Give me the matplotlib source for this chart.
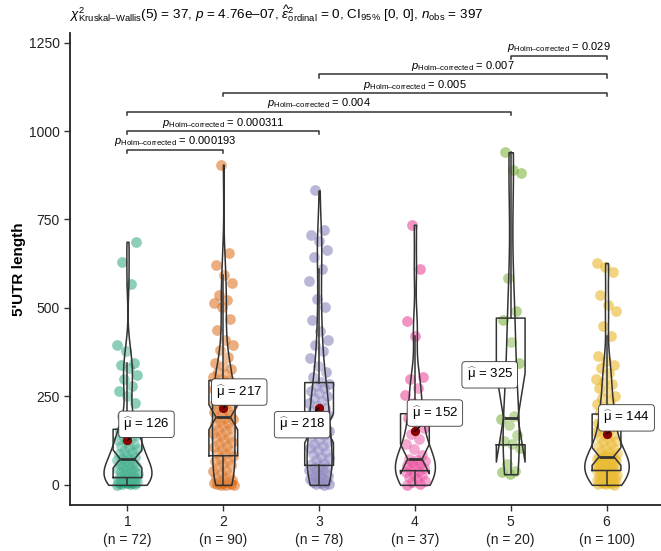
import numpy as np
import matplotlib
matplotlib.use("Agg")
import matplotlib.pyplot as plt

plt.rcParams["font.family"] = ["Liberation Sans", "DejaVu Sans"]
plt.rcParams["mathtext.fontset"] = "custom"
plt.rcParams["mathtext.rm"] = "Liberation Sans"
plt.rcParams["mathtext.it"] = "Liberation Sans:italic"
plt.rcParams["mathtext.bf"] = "Liberation Sans:bold"

# ---- data ----
groups = ["1", "2", "3", "4", "5", "6"]
colors = ["#1B9E77", "#D95F02", "#7570B3", "#E7298A", "#66A61E", "#E6AB02"]

utr_1 = [0, 1, 2, 3, 4, 5, 6, 7, 8, 9, 10, 11, 12, 14, 15, 16, 18, 19,
         21, 24, 27, 30, 33, 36, 39, 42, 45, 48, 51, 54, 57, 60, 63, 66, 69, 72,
         74, 78, 83, 88, 92, 97, 101, 106, 110, 115, 120, 126, 131, 137, 142, 148, 152, 156,
         160, 170, 185, 195, 230, 250, 265, 280, 300, 310, 330, 340, 345, 377, 396, 567, 631, 687]
utr_2 = [0, 0, 0, 1, 2, 4, 6, 9, 12, 15, 19, 23, 28, 33, 38, 43, 49, 55, 60, 66, 71, 76, 81,
         86, 91, 96, 101, 106, 111, 116, 121, 126, 131, 136, 141, 146, 151, 156, 161, 166, 171,
         176, 181, 186, 190,
         192, 197, 202, 207, 212, 217, 222, 227, 232, 237, 242, 247, 252, 257, 262, 267, 272,
         277, 282, 286, 290, 292,
         296, 300, 305, 312, 320, 328, 335, 345, 362, 382, 395, 410, 438, 470, 504, 514, 523,
         537, 571, 594, 620, 656, 905]
utr_3 = [0, 1, 3, 5, 8, 11, 14, 17, 20, 23, 26, 29, 32, 35, 38, 41, 44, 47, 50, 54,
         58, 63, 69, 75, 80, 86, 92, 98, 104, 110, 116, 122, 128, 134, 140, 146, 151, 155, 159,
         161, 168, 175, 182, 189, 196, 203, 210, 217, 224, 231, 238, 245, 252, 259, 266, 273, 280, 286,
         290, 306, 320, 335, 359, 377, 395, 410, 434, 467, 504, 524, 575, 611, 644, 665, 690, 707, 720, 832]
utr_4 = [0, 3, 8, 12, 17, 22, 27, 32, 36, 40,
         44, 48, 52, 56, 60, 64, 67, 70, 73,
         85, 100, 115, 130, 145, 160, 175, 190, 201,
         230, 255, 275, 300, 304, 421, 462, 610, 735]
utr_5 = [30, 35, 40, 60, 105, 116, 125, 140, 170, 185,
         195, 300, 345, 404, 465, 490, 585, 880, 890, 940]
utr_6 = [0, 1, 2, 4, 5, 7, 8, 10, 11, 13, 14, 16, 18, 19, 21, 23, 25, 27, 29, 31, 33, 35, 36, 38, 39,
         41, 43, 45, 47, 49, 51, 53, 55, 57, 59, 61, 63, 64, 66, 67, 69, 70, 72, 73, 74, 75, 76, 77, 78, 79,
         81, 85, 89, 93, 97, 101, 105, 110, 115, 120, 125, 130, 135, 140, 145, 150, 155, 160, 165, 170,
         176, 182, 188, 194, 198,
         206, 212, 220, 228, 236, 245, 252, 262, 275, 285, 292, 300, 316, 330, 339, 350, 363, 420,
         450, 490, 509, 537, 601, 617, 627]
data = [np.array(v, dtype=float) for v in (utr_1, utr_2, utr_3, utr_4, utr_5, utr_6)]

# pairwise comparisons (Holm corrected)
pairs = [(1, 2), (1, 3), (1, 5), (2, 6), (3, 6), (5, 6)]
pair_labels = ["0.000193", "0.000311", "0.004", "0.005", "0.007", "0.029"]
pair_y = [947, 1000, 1054, 1107, 1160, 1213]

# offsets of the mean labels (pixels)
label_off = [(19, 16), (16, 16), (-17, -17), (20, 18), (-21, -5), (20, 16)]

subtitle = (r"$\chi^2_{\mathrm{Kruskal–Wallis}}$(5) = 37, $\mathit{p}$ = 4.76e–07, "
            r"$\widehat{\varepsilon}^2_{\mathrm{ordinal}}$ = 0, CI$_{95\%}$ [0, 0], "
            r"$\mathit{n}_{\mathrm{obs}}$ = 397")

# ---- figure ----
fig = plt.figure(figsize=(6.61, 5.51), dpi=100)
ax = fig.add_axes([70 / 661, 46 / 551, 594 / 661, 472 / 551])
pos = np.arange(1, 7)
line_c = "#333333"


def nrd0(x):
    sd = np.std(x, ddof=1)
    iqr = np.subtract(*np.percentile(x, [75, 25]))
    lo = min(sd, iqr / 1.34)
    return 0.9 * lo * len(x) ** -0.2


# jittered points
for i, (vals, c) in enumerate(zip(data, colors)):
    k = np.arange(len(vals))
    jit = ((k * 0.6180339 + 0.37 * i) % 1.0 - 0.5) * 0.22
    ax.scatter(pos[i] + jit, vals, s=60, color=c, alpha=0.5, lw=0, zorder=2)

# violins (area scaled, trimmed)
dens = []
for vals in data:
    bw = nrd0(vals)
    grid = np.linspace(vals.min(), vals.max(), 512)
    d = np.exp(-0.5 * ((grid[:, None] - vals[None, :]) / bw) ** 2).sum(axis=1)
    d /= len(vals) * bw * np.sqrt(2 * np.pi)
    dens.append((grid, d))
dmax = max(d.max() for _, d in dens)
for i, (grid, d) in enumerate(dens):
    hw = 0.25 * d / dmax
    ax.fill_betweenx(grid, pos[i] - hw, pos[i] + hw, facecolor=(1, 1, 1, 0.2),
                     edgecolor=line_c, lw=1.1, zorder=3)

# notched boxplots
ax.boxplot(data, positions=pos, widths=0.3, notch=True, showfliers=False,
           showcaps=False, manage_ticks=False,
           boxprops=dict(color=line_c, lw=1.1),
           whiskerprops=dict(color=line_c, lw=1.1),
           medianprops=dict(color=line_c, lw=2.0), zorder=4)

# means
for i, vals in enumerate(data):
    m = vals.mean()
    ax.scatter(pos[i], m, s=32, color="#8B0000", zorder=6)
    ax.annotate(r"$\widehat{\mathrm{μ}}$ = %d" % round(m), xy=(pos[i], m),
                xytext=label_off[i], textcoords="offset pixels",
                ha="center", va="center", fontsize=9.5, zorder=7,
                bbox=dict(boxstyle="round,pad=0.35,rounding_size=0.25", fc="white",
                          ec=line_c, lw=0.6),
                arrowprops=dict(arrowstyle="-", color="black", lw=1.0,
                                shrinkA=0, shrinkB=0))

# significance brackets
tip = 9
for (a, b), lab, y in zip(pairs, pair_labels, pair_y):
    ax.plot([a, a, b, b], [y - tip, y, y, y - tip], color=line_c, lw=1.1,
            clip_on=False, zorder=5)
    ax.text((a + b) / 2, y + 4, r"$\mathit{p}_{\mathrm{Holm–corrected}}$ = " + lab,
            ha="center", va="bottom", fontsize=8, zorder=5)

ax.set_xlim(0.4, 6.6)
ax.set_ylim(-57, 1277)
ax.set_yticks([0, 250, 500, 750, 1000, 1250])
ax.set_xticks(pos)
ax.set_xticklabels(["%s\n(n = %d)" % (g, len(v)) for g, v in zip(groups, data)],
                   linespacing=1.35)
ax.tick_params(axis="both", labelsize=10, length=4, width=1.0, color="#333333",
               labelcolor="#222222")
for s in ("top", "right"):
    ax.spines[s].set_visible(False)
for s in ("left", "bottom"):
    ax.spines[s].set_linewidth(1.3)
    ax.spines[s].set_color("#222222")
ax.set_ylabel("5'UTR length", fontsize=11, fontweight="bold", labelpad=2)
fig.text(70 / 661, 1 - 14 / 551, subtitle, fontsize=9.7, ha="left", va="center")

fig.savefig("out.png", dpi=100)
